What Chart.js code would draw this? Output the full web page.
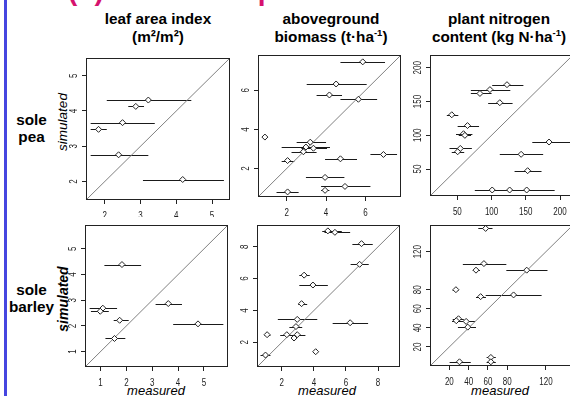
<!DOCTYPE html>
<html>
<head>
<meta charset="utf-8">
<script src="https://cdn.jsdelivr.net/npm/chart.js@4.4.1/dist/chart.umd.min.js"></script>
<style>
  html, body { margin: 0; padding: 0; background: #fff; }
  body {
    width: 570px; height: 396px; position: relative; overflow: hidden;
    font-family: "Liberation Sans", Arial, sans-serif; color: #000;
  }
  .abs { position: absolute; white-space: nowrap; }
  .head { font-size: 15.3px; font-weight: bold; line-height: 18px; text-align: center; transform: translateX(-50%); }
  .head sup { font-size: 9.5px; line-height: 0; vertical-align: 6px; }
  .row { font-size: 15.3px; font-weight: bold; line-height: 17px; text-align: center; transform: translateX(-50%); }
  .ylab { font-size: 13.5px; line-height: 14px; font-style: italic; transform: translate(-50%, -50%) rotate(-90deg); }
  .xlab { font-size: 13px; line-height: 13px; font-style: italic; transform: translateX(-50%); }
  .panel { position: absolute; }
</style>
</head>
<body>
<div class="abs" style="left:4px;top:0;width:3px;height:396px;background:#4646e0"></div>
<div class="abs" style="left:68px;top:-23px;font-size:28px;line-height:28px;font-weight:bold;color:#d6126e">(b) Model comparison</div>

<div class="abs head" style="left:158px;top:10px">leaf area index<br>(m²/m²)</div>
<div class="abs head" style="left:331px;top:10px">aboveground<br>biomass (t·ha<sup>-1</sup>)</div>
<div class="abs head" style="left:499px;top:10px">plant nitrogen<br>content (kg N·ha<sup>-1</sup>)</div>

<div class="abs row" style="left:31.5px;top:111px">sole<br>pea</div>
<div class="abs row" style="left:31.5px;top:281px">sole<br>barley</div>

<div class="abs ylab" style="left:62.5px;top:122px">simulated</div>
<div class="abs ylab" style="left:62.5px;top:299px;font-weight:bold;font-size:14px">simulated</div>
<div class="abs xlab" style="left:156px;top:384px">measured</div>
<div class="abs xlab" style="left:327px;top:384px">measured</div>
<div class="abs xlab" style="left:500px;top:384px">measured</div>

<script>
// ----- data (measured = x, simulated = y, lo/hi = error bar on measured) -----

// sole pea, leaf area index
const laiPeaMeas = [3.22, 2.87, 2.50, 1.83, 2.39, 4.18];
const laiPeaSim  = [4.31, 4.13, 3.67, 3.48, 2.76, 2.06];
const laiPeaLo   = [2.06, 2.66, 1.61, 1.61, 1.61, 3.07];
const laiPeaHi   = [4.42, 3.10, 3.40, 2.06, 3.22, 5.33];
const laiPeaTicks = [2, 3, 4, 5];

// sole pea, aboveground biomass
const bioPeaMeas = [5.86, 4.51, 4.17, 5.64, 0.90, 3.20, 2.98, 3.36, 2.85, 6.91, 4.73, 2.05, 3.95, 4.96, 3.95, 2.05];
const bioPeaSim  = [7.45, 6.32, 5.76, 5.54, 3.61, 3.35, 3.10, 3.04, 2.86, 2.72, 2.50, 2.41, 1.55, 1.09, 0.89, 0.81];
const bioPeaLo   = [4.73, 3.02, 3.52, 4.73, null, 2.51, 1.75, 2.75, 2.25, 6.25, 3.95, 1.75, 2.98, 3.75, 3.75, 1.49];
const bioPeaHi   = [6.99, 6.06, 4.81, 6.59, null, 4.00, 4.20, 4.05, 3.52, 7.60, 5.57, 2.39, 4.93, 6.25, 4.17, 2.61];
const bioPeaTicks = [2, 4, 6];

// sole pea, plant nitrogen
const nitPeaMeas = [122.5, 97.6, 83, 112, 41.8, 64.8, 59, 61, 54.3, 50.4, 184, 143.2, 152.7, 100.9, 126.4, 151.3];
const nitPeaSim  = [175, 167.7, 162, 148.3, 130.4, 114.4, 102.3, 99.9, 80.5, 75.6, 90, 71.8, 47.5, 18.9, 18.9, 18.9];
const nitPeaLo   = [100.9, 69.7, 69.7, 95, 34.6, 50.4, 48, 52, 38.5, 41.8, 159.5, 112, 133.6, 75.5, null, 110];
const nitPeaHi   = [146.5, 127.4, 100, 130.7, 51.4, 81.7, 72, 70, 71.2, 60, 230, 175.4, 173, 126, null, 192.2];
const nitPeaTicks = [50, 100, 150, 200];

// sole barley, leaf area index
const laiBarMeas = [1.83, 3.62, 1.09, 0.99, 1.74, 4.77, 1.54];
const laiBarSim  = [4.39, 2.87, 2.69, 2.57, 2.22, 2.08, 1.51];
const laiBarLo   = [1.15, 3.13, 0.58, 0.63, 1.51, 3.81, 1.19];
const laiBarHi   = [2.57, 4.15, 1.64, 1.32, 2.09, 5.75, 1.96];
const laiBarTicks = [1, 2, 3, 4, 5];

// sole barley, aboveground biomass
const bioBarMeas = [4.87, 5.31, 6.97, 6.85, 3.39, 3.94, 3.23, 2.96, 6.26, 2.88, 1.08, 2.31, 2.96, 2.76, 4.11, 0.98];
const bioBarSim  = [9.00, 8.91, 8.20, 6.90, 6.22, 5.60, 4.43, 3.44, 3.23, 2.99, 2.48, 2.48, 2.48, 2.27, 1.41, 1.20];
const bioBarLo   = [4.52, 4.66, 6.40, 6.29, 3.09, 3.09, 3.02, 1.75, 5.17, 2.47, 0.92, 1.90, 2.80, null, null, 0.67];
const bioBarHi   = [5.74, 6.26, 7.67, 7.42, 3.74, 4.87, 3.58, 4.21, 7.38, 3.27, 1.29, 3.47, 3.10, null, null, 1.29];
const bioBarTicks = [2, 4, 6, 8];

// sole barley, plant nitrogen
const nitBarMeas = [57.6, 55.8, 47.6, 100.1, 26.8, 86.5, 52.4, 29.5, 27.2, 37.4, 39.1, 30.5, 63, 63];
const nitBarSim  = [144.4, 107.5, 100.6, 100.6, 80.1, 74.6, 72.8, 49.6, 47.5, 46.8, 40.8, 4.4, 9, 4.4];
const nitBarLo   = [50, 34, 44.3, 79, 23.4, 57.6, 47.6, 23.5, 25, 22.8, 28.9, 20.3, 58.6, 58.6];
const nitBarHi   = [64.7, 79, 51.7, 121.6, 29.5, 115.5, 57.9, 35, 30, 46.6, 47.6, 42.2, 68.1, 68.1];
const nitBarTicks = [20, 40, 60, 80, 120];

// ----- layout: plot box [left, top, width, height] in page pixels, shared x/y range -----
const panels = [
  { box: [86, 56, 146, 144],  range: [1.48, 5.5],  padB: 17, meas: laiPeaMeas, sim: laiPeaSim, lo: laiPeaLo, hi: laiPeaHi, ticks: laiPeaTicks },
  { box: [258, 53, 145, 144], range: [0.55, 7.8],  padB: 22, meas: bioPeaMeas, sim: bioPeaSim, lo: bioPeaLo, hi: bioPeaHi, ticks: bioPeaTicks },
  { box: [430, 53, 145, 143], range: [10, 219],    padB: 22, meas: nitPeaMeas, sim: nitPeaSim, lo: nitPeaLo, hi: nitPeaHi, ticks: nitPeaTicks },
  { box: [85, 223, 145, 144], range: [0.4, 5.93],  padB: 22, meas: laiBarMeas, sim: laiBarSim, lo: laiBarLo, hi: laiBarHi, ticks: laiBarTicks },
  { box: [257, 223, 145, 144], range: [0.45, 9.37], padB: 22, meas: bioBarMeas, sim: bioBarSim, lo: bioBarLo, hi: bioBarHi, ticks: bioBarTicks },
  { box: [430, 223, 145, 143], range: [0, 148],    padB: 22, meas: nitBarMeas, sim: nitBarSim, lo: nitBarLo, hi: nitBarHi, ticks: nitBarTicks }
];

const PAD_L = 26, PAD_T = 3, PAD_R = 3;
const TICK_FONT = '10px "Liberation Sans", Arial, sans-serif';

// r-style frame: error bars, full box, narrow tick labels (y labels rotated)
const rStyle = {
  id: 'rStyle',
  beforeDatasetsDraw(chart) {
    const { ctx, chartArea: a, scales: { x, y } } = chart;
    ctx.save();
    ctx.beginPath();
    ctx.rect(a.left, a.top, a.right - a.left, a.bottom - a.top);
    ctx.clip();
    ctx.strokeStyle = '#1a1a1a';
    ctx.lineWidth = 1;
    chart.data.datasets[0].data.forEach(p => {
      if (p.lo == null) return;
      const py = Math.round(y.getPixelForValue(p.y)) + 0.5;
      ctx.beginPath();
      ctx.moveTo(x.getPixelForValue(p.lo), py);
      ctx.lineTo(x.getPixelForValue(p.hi), py);
      ctx.stroke();
    });
    ctx.restore();
  },
  afterDraw(chart) {
    const { ctx, chartArea: a, scales: { x, y } } = chart;
    ctx.save();
    ctx.strokeStyle = '#222';
    ctx.lineWidth = 1;
    ctx.strokeRect(a.left + 0.5, a.top + 0.5, a.right - a.left - 1, a.bottom - a.top - 1);

    ctx.fillStyle = '#222';
    ctx.font = TICK_FONT;
    ctx.textAlign = 'center';
    ctx.textBaseline = 'middle';
    x.ticks.forEach(t => {
      ctx.save();
      ctx.translate(x.getPixelForValue(t.value), a.bottom + 16);
      ctx.scale(0.8, 1);
      ctx.fillText(String(t.value), 0, 0);
      ctx.restore();
    });
    y.ticks.forEach(t => {
      ctx.save();
      ctx.translate(a.left - 12, y.getPixelForValue(t.value));
      ctx.rotate(-Math.PI / 2);
      ctx.scale(0.8, 1);
      ctx.fillText(String(t.value), 0, 0);
      ctx.restore();
    });
    ctx.restore();
  }
};

function axis(range, ticks, size, horizontal) {
  return {
    type: 'linear',
    min: range[0],
    max: range[1],
    afterBuildTicks: s => { s.ticks = ticks.map(v => ({ value: v })); },
    afterFit: s => { if (horizontal) s.height = size; else s.width = size; },
    ticks: { display: false },
    grid: { display: true, drawOnChartArea: false, drawTicks: true, tickLength: 4, color: '#222', lineWidth: 1 },
    border: { display: false }
  };
}

panels.forEach(p => {
  const [left, top, w, h] = p.box;
  const holder = document.createElement('div');
  holder.className = 'panel';
  holder.style.left = (left - PAD_L) + 'px';
  holder.style.top = (top - PAD_T) + 'px';
  const canvas = document.createElement('canvas');
  canvas.width = w + PAD_L + PAD_R;
  canvas.height = h + PAD_T + p.padB;
  canvas.style.width = canvas.width + 'px';
  canvas.style.height = canvas.height + 'px';
  holder.appendChild(canvas);
  document.body.appendChild(holder);

  const points = p.meas.map((m, i) => ({ x: m, y: p.sim[i], lo: p.lo[i], hi: p.hi[i] }));

  new Chart(canvas.getContext('2d'), {
    type: 'scatter',
    data: {
      datasets: [
        {
          data: points,
          pointStyle: 'rectRot',
          pointRadius: 3,
          borderWidth: 1,
          borderColor: '#222',
          backgroundColor: '#fff'
        },
        {
          type: 'line',
          data: [{ x: p.range[0], y: p.range[0] }, { x: p.range[1], y: p.range[1] }],
          borderColor: '#808080',
          borderWidth: 1,
          pointRadius: 0,
          fill: false
        }
      ]
    },
    options: {
      responsive: false,
      animation: false,
      events: [],
      layout: { padding: { left: 0, top: PAD_T, right: PAD_R, bottom: 0 } },
      plugins: { legend: { display: false }, tooltip: { enabled: false } },
      scales: {
        x: axis(p.range, p.ticks, p.padB, true),
        y: axis(p.range, p.ticks, PAD_L, false)
      }
    },
    plugins: [rStyle]
  });
});
</script>
</body>
</html>
